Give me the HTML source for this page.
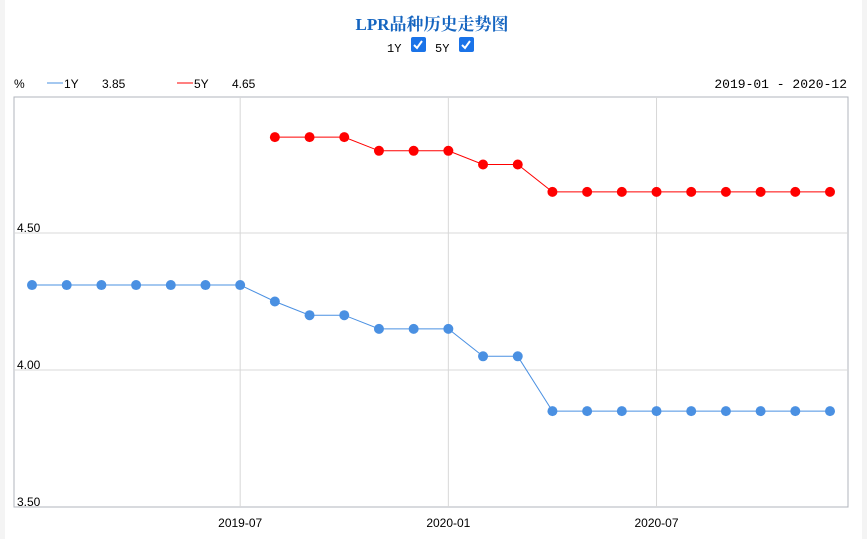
<!DOCTYPE html>
<html><head><meta charset="utf-8"><style>
body{margin:0;width:867px;height:539px;background:#f4f4f4;font-family:"Liberation Sans","Noto Sans CJK SC",sans-serif;overflow:hidden}
#card{position:absolute;left:5px;top:0;width:857px;height:539px;background:#fff}
</style></head><body>
<div id="card"></div>
<svg id="chart" width="867" height="539" style="position:absolute;left:0;top:0">
<text x="432" y="30" text-anchor="middle" font-family="Liberation Serif,Noto Serif CJK SC,serif" font-size="17" font-weight="bold" fill="#1565c0">LPR品种历史走势图</text>
<g><text x="387" y="52" font-family="Liberation Mono,monospace" font-size="12" fill="#000">1Y</text>
<rect x="411" y="37" width="15" height="15" rx="2" fill="#1a73e8"/><path d="M414 45l3 3 5-7" stroke="#fff" stroke-width="2" fill="none"/></g>
<g><text x="435" y="52" font-family="Liberation Mono,monospace" font-size="12" fill="#000">5Y</text>
<rect x="459" y="37" width="15" height="15" rx="2" fill="#1a73e8"/><path d="M462 45l3 3 5-7" stroke="#fff" stroke-width="2" fill="none"/></g>
<text x="14" y="88" font-size="12">%</text>
<g><line x1="47" y1="83" x2="63" y2="83" stroke="#4a90e2"/><text x="64" y="88" font-size="12">1Y</text><text x="102" y="88" font-size="12">3.85</text></g>
<g><line x1="177" y1="83" x2="193" y2="83" stroke="#f00"/><text x="194" y="88" font-size="12">5Y</text><text x="232" y="88" font-size="12">4.65</text></g>
<text x="847" y="88" text-anchor="end" font-family="Liberation Mono,monospace" font-size="13">2019-01 - 2020-12</text>
<rect x="14" y="97" width="834" height="410" fill="none" stroke="#b0b4bc"/>
<g id="grid"></g><g id="series"></g>
</svg>
<script>
const months=["2019-01","2019-02","2019-03","2019-04","2019-05","2019-06","2019-07","2019-08","2019-09","2019-10","2019-11","2019-12","2020-01","2020-02","2020-03","2020-04","2020-05","2020-06","2020-07","2020-08","2020-09","2020-10","2020-11","2020-12"];
const y1=[4.31,4.31,4.31,4.31,4.31,4.31,4.31,4.25,4.20,4.20,4.15,4.15,4.15,4.05,4.05,3.85,3.85,3.85,3.85,3.85,3.85,3.85,3.85,3.85];
const y5=[null,null,null,null,null,null,null,4.85,4.85,4.85,4.80,4.80,4.80,4.75,4.75,4.65,4.65,4.65,4.65,4.65,4.65,4.65,4.65,4.65];
const yTicks=[3.50,4.00,4.50];
const xTicks=["2019-07","2020-01","2020-07"];
const X=i=>32+i*(830-32)/23;
const Y=v=>370-(v-4.0)*274;
const NS="http://www.w3.org/2000/svg";
const grid=document.getElementById('grid'),ser=document.getElementById('series');
function mk(tag,attrs,parent){const e=document.createElementNS(NS,tag);for(const k in attrs)e.setAttribute(k,attrs[k]);parent.appendChild(e);return e;}
yTicks.forEach(v=>{
 if(v>3.5){const l=mk('line',{x1:14,x2:848,y1:Y(v),y2:Y(v),stroke:'#d8d8d8'},grid);
 
 }
 const t=mk('text',{x:17,y:Y(v)-1,'font-size':12,fill:'#000'},grid);t.textContent=v.toFixed(2);
 
 
});
xTicks.forEach(m=>{const i=months.indexOf(m);
 const l=mk('line',{x1:X(i),x2:X(i),y1:97,y2:507,stroke:'#d8d8d8'},grid);
 
 
 const t=mk('text',{x:X(i),y:527,'font-size':12,'text-anchor':'middle'},grid);t.textContent=m;
 
 
});
function draw(vals,color,name){
 let d='';vals.forEach((v,i)=>{if(v==null)return;d+=(d?'L':'M')+X(i)+' '+Y(v);});
 const p=mk('path',{d:d,fill:'none',stroke:color,'stroke-width':1},ser);
 
 
 vals.forEach((v,i)=>{if(v==null)return;const c=mk('circle',{cx:X(i),cy:Y(v),r:5,fill:color},ser);
 
 });
}
draw(y1,'#4a90e2','series-1y');
draw(y5,'#ff0000','series-5y');
</script>
</body></html>
